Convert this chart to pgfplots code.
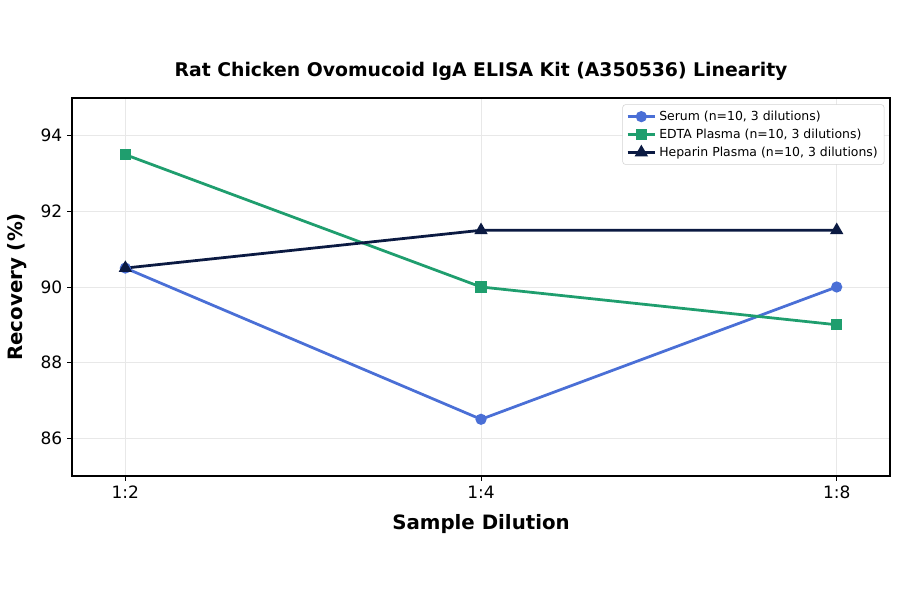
\documentclass[border=0pt]{standalone}
\usepackage{pgfplots}
\pgfplotsset{compat=1.18}
\usepackage{fontspec}
\setmainfont{DejaVu Sans}
\setsansfont{DejaVu Sans}

\definecolor{serum}{HTML}{4A6FD6}
\definecolor{edta}{HTML}{1F9E6E}
\definecolor{heparin}{HTML}{0B1A42}

\begin{document}
\begin{tikzpicture}
\begin{axis}[
    at={(0,0)}, anchor=south west,
    scale only axis,
    width=589bp, height=272.2bp,
    xmin=-0.15, xmax=2.15,
    ymin=85, ymax=95,
    xtick={0,1,2},
    xticklabels={1:2,1:4,1:8},
    ytick={86,88,90,92,94},
    /pgf/number format/assume math mode=true,
    tick label style={font=\fontsize{12.3}{14}\selectfont},
    tick align=outside,
    tick pos=left,
    major tick length=3.5pt,
    every tick/.style={black, line width=0.6pt},
    axis line style={black, line width=0.9pt},
    grid=major,
    grid style={gray!18, line width=0.5pt},
    xlabel={\bfseries Sample Dilution},
    ylabel={\bfseries Recovery (\%)},
    label style={font=\fontsize{14.3}{17}\selectfont},
    xlabel style={at={(axis description cs:0.5,0)}, anchor=center, yshift=-34.5bp},
    ylabel style={at={(axis description cs:0,0.5)}, anchor=center, yshift=39.5bp},
    title={\bfseries Rat Chicken Ovomucoid IgA ELISA Kit (A350536) Linearity},
    title style={font=\fontsize{13.6}{16}\selectfont, at={(axis description cs:0.5,1)}, anchor=center, yshift=13bp},
    legend style={at={(0.993,0.983)}, anchor=north east, font=\fontsize{9}{11}\selectfont,
        draw=gray!35, rounded corners=2pt, fill=white, row sep=0.6pt, inner sep=2.5pt},
    legend cell align=left,
    legend image code/.code={\draw[mark repeat=2, mark phase=2]
        plot coordinates {(0cm,0cm) (0.35cm,0cm) (0.7cm,0cm)};},
]
\addplot[serum, line width=2pt, mark=*, mark size=3pt] coordinates {(0,90.5) (1,86.5) (2,90.0)};
\addplot[edta, line width=2pt, mark=square*, mark size=3pt] coordinates {(0,93.5) (1,90.0) (2,89.0)};
\addplot[heparin, line width=2pt, mark=triangle*, mark size=3.6pt] coordinates {(0,90.5) (1,91.5) (2,91.5)};
\legend{{Serum (n=10, 3 dilutions)}, {EDTA Plasma (n=10, 3 dilutions)}, {Heparin Plasma (n=10, 3 dilutions)}}
\end{axis}
\path (-51.84bp,-84.96bp) rectangle (596.16bp,342.72bp);
\end{tikzpicture}
\end{document}
